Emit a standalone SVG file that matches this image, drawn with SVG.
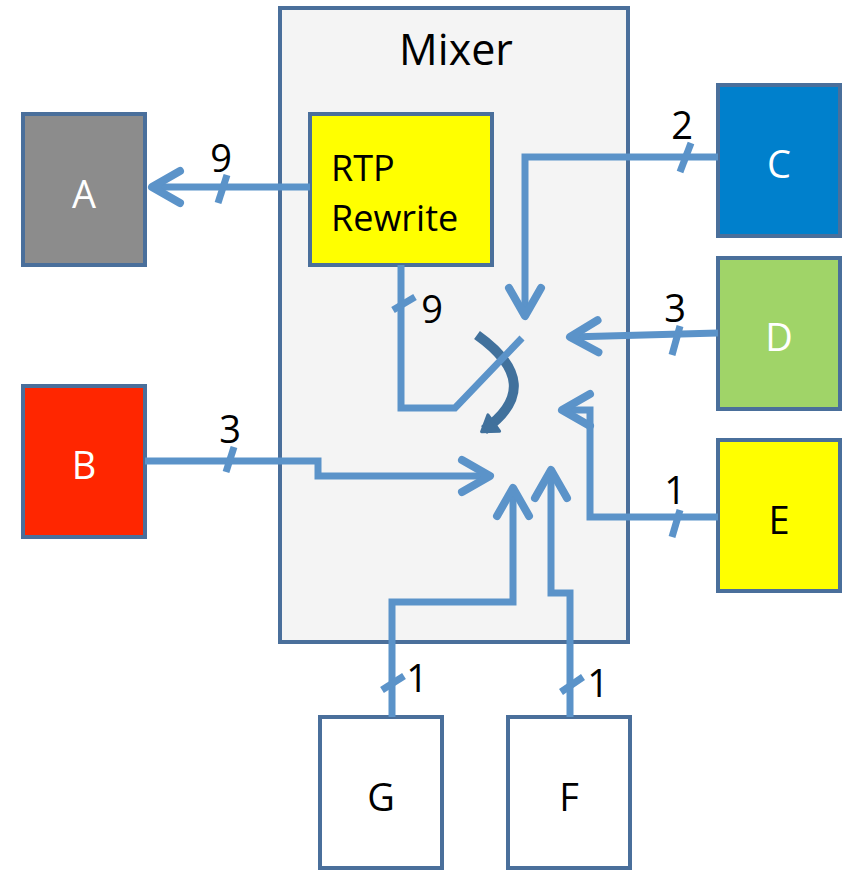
<svg xmlns="http://www.w3.org/2000/svg" width="846" height="870" viewBox="0 0 846 870">
<defs>
<style>
.node{stroke:#4A6F9B;stroke-width:4}
.lbl{font-family:"Open Sans","Liberation Sans",sans-serif;font-size:38px;text-anchor:middle}
.num{font-family:"Open Sans","Liberation Sans",sans-serif;font-size:38px;text-anchor:middle;fill:#000}
.con{fill:none;stroke:#5B93C9;stroke-width:7;stroke-linejoin:miter}
.hash{fill:none;stroke:#5B93C9;stroke-width:7}
</style>
<marker id="arr" markerUnits="userSpaceOnUse" markerWidth="50" markerHeight="50" viewBox="-40 -25 50 50" refX="0" refY="0" orient="auto" overflow="visible">
<path d="M-28,-16 L0,0 L-28,16" fill="none" stroke="#5B93C9" stroke-width="8" stroke-linecap="round" stroke-linejoin="round"/>
</marker>
<marker id="arr2" markerUnits="userSpaceOnUse" markerWidth="30" markerHeight="30" viewBox="-15 -15 30 30" refX="0" refY="0" orient="auto" overflow="visible">
<path d="M-12,-10 L3,0 L-12,10 Z" fill="#41719C" stroke="#41719C" stroke-width="3" stroke-linejoin="round"/>
</marker>
</defs>
<g id="mixer">
<rect x="280" y="8" width="348" height="634" fill="#F4F4F4" class="node"/>
<text x="456" y="65" class="lbl" style="font-size:43px" fill="#000">Mixer</text>
</g>
<g id="rtp">
<rect x="310" y="114" width="182" height="151" fill="#FFFF00" class="node"/>
<text x="331" y="181" class="lbl" style="text-anchor:start;font-size:36px" fill="#000">RTP</text>
<text x="331" y="231" class="lbl" style="text-anchor:start;font-size:36px" fill="#000">Rewrite</text>
</g>
<g id="A">
<rect x="23" y="114" width="122" height="151" fill="#8C8C8C" class="node"/>
<text x="84" y="208" class="lbl" fill="#FFFFFF">A</text>
</g>
<g id="B">
<rect x="23" y="386" width="122" height="151" fill="#FF2600" class="node"/>
<text x="84" y="479" class="lbl" fill="#FFFFFF">B</text>
</g>
<g id="C">
<rect x="718" y="85" width="122" height="151" fill="#0080CC" class="node"/>
<text x="779" y="178" class="lbl" fill="#FFFFFF">C</text>
</g>
<g id="D">
<rect x="718" y="258" width="122" height="151" fill="#A0D468" class="node"/>
<text x="779" y="351" class="lbl" fill="#FFFFFF">D</text>
</g>
<g id="E">
<rect x="718" y="440" width="122" height="151" fill="#FFFF00" class="node"/>
<text x="779" y="534" class="lbl" fill="#000">E</text>
</g>
<g id="G">
<rect x="320" y="717" width="122" height="151" fill="#FFFFFF" class="node"/>
<text x="381" y="811" class="lbl" fill="#000">G</text>
</g>
<g id="F">
<rect x="508" y="717" width="122" height="151" fill="#FFFFFF" class="node"/>
<text x="569" y="811" class="lbl" fill="#000">F</text>
</g>
<g id="switch">
<path d="M477,335 Q547,385 484,430" fill="none" stroke="#41719C" stroke-width="10" marker-end="url(#arr2)"/>
</g>
<g id="connectors">
<path class="con" d="M310,187 L152,187" marker-end="url(#arr)"/>
<path class="hash" d="M218,203 L227,175"/>
<text class="num" x="221" y="172">9</text>
<path class="con" d="M718,157 L525,157 L525,316" marker-end="url(#arr)"/>
<path class="hash" d="M680,172 L691,143"/>
<text class="num" x="682" y="139">2</text>
<path class="con" d="M718,333 L570,337" marker-end="url(#arr)"/>
<path class="hash" d="M672,355 L680,326"/>
<text class="num" x="675" y="322">3</text>
<path class="con" d="M718,517 L590,517 L590,410 L562,410" marker-end="url(#arr)"/>
<path class="hash" d="M672,537 L680,510"/>
<text class="num" x="675" y="504">1</text>
<path class="con" d="M145,461 L318,461 L318,476 L490,476" marker-end="url(#arr)"/>
<path class="hash" d="M226,472 L234,447"/>
<text class="num" x="230" y="443">3</text>
<path class="con" d="M392,717 L392,602 L513,602 L513,488" marker-end="url(#arr)"/>
<path class="hash" d="M382,690 L404,676"/>
<text class="num" x="417" y="692">1</text>
<path class="con" d="M570,717 L570,593 L551,593 L551,470" marker-end="url(#arr)"/>
<path class="hash" d="M561,692 L583,677"/>
<text class="num" x="598" y="697">1</text>
<path class="con" d="M401,265 L401,408 L455,408 L522,338"/>
<path class="hash" d="M393,310 L415,297"/>
<text class="num" x="432" y="323">9</text>
</g>
</svg>
